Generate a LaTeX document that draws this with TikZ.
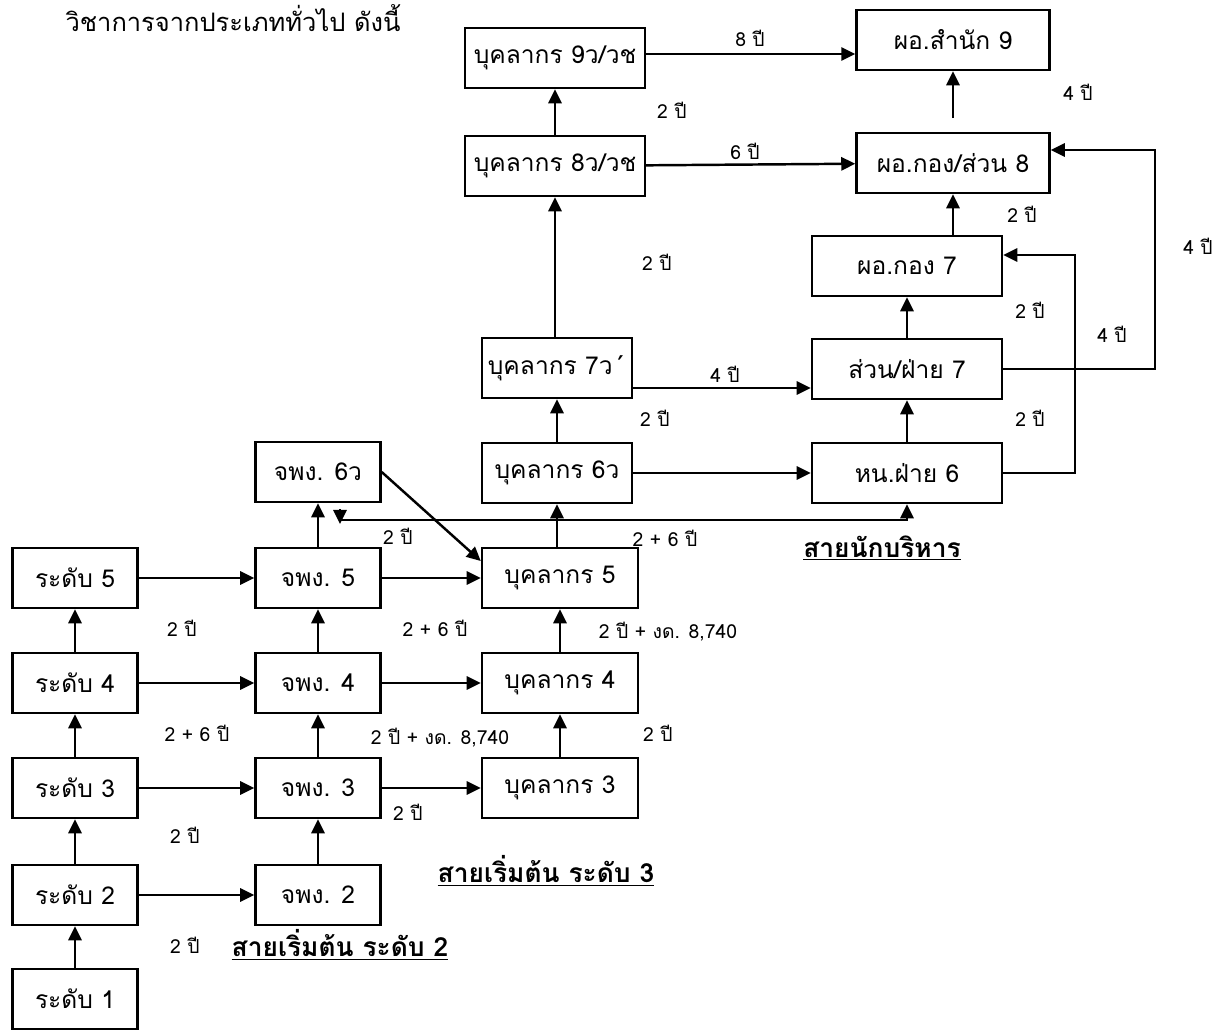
\documentclass[tikz,border=0pt]{standalone}
\usepackage{fontspec}
\setmainfont[Script=Thai]{Loma}
\usetikzlibrary{arrows.meta}
\begin{document}
\begin{tikzpicture}[x=0.02cm, y=-0.02cm,
    box/.style={draw, line width=1.4pt, minimum height=1.2cm, inner sep=0pt, font=\fontsize{14}{16}\selectfont},
    arr/.style={line width=1.4pt, -{Triangle[length=8pt,width=7.5pt]}},
    lbl/.style={font=\fontsize{11}{13}\selectfont},
    ttl/.style={font=\fontsize{15}{17}\selectfont\bfseries}]
\useasboundingbox (0,0) rectangle (1222,1029);

\node[font=\fontsize{14.5}{17}\selectfont] (head) at (233,18) {วิชาการจากประเภททั่วไป ดังนี้};

% general line
\node[box, minimum width=2.5cm] (r5) at (75,578) {ระดับ 5};
\node[box, minimum width=2.5cm] (r4) at (75,683) {ระดับ 4};
\node[box, minimum width=2.5cm] (r3) at (75,788) {ระดับ 3};
\node[box, minimum width=2.5cm] (r2) at (75,895) {ระดับ 2};
\node[box, minimum width=2.5cm] (r1) at (75,999) {ระดับ 1};

\node[box, minimum width=2.5cm] (j6) at (318,472) {จพง. 6ว};
\node[box, minimum width=2.5cm] (j5) at (318,578) {จพง. 5};
\node[box, minimum width=2.5cm] (j4) at (318,683) {จพง. 4};
\node[box, minimum width=2.5cm] (j3) at (318,788) {จพง. 3};
\node[box, minimum width=2.5cm] (j2) at (318,895) {จพง. 2};

\node[box, minimum width=3.12cm] (b5) at (560,578) {บุคลากร 5};
\node[box, minimum width=3.12cm] (b4) at (560,683) {บุคลากร 4};
\node[box, minimum width=3.12cm] (b3) at (560,788) {บุคลากร 3};
\node[box, minimum width=3cm] (b6) at (557,473) {บุคลากร 6ว};
\node[box, minimum width=3cm] (b7) at (557,368) {บุคลากร 7ว´};
\node[box, minimum width=3.6cm] (b8) at (555,166) {บุคลากร 8ว/วช};
\node[box, minimum width=3.6cm] (b9) at (555,58) {บุคลากร 9ว/วช};

% executive line
\node[box, minimum width=3.86cm] (d9) at (953,40) {ผอ.สำนัก 9};
\node[box, minimum width=3.86cm] (d8) at (953,163) {ผอ.กอง/ส่วน 8};
\node[box, minimum width=3.8cm] (k7) at (907,266) {ผอ.กอง 7};
\node[box, minimum width=3.8cm] (s7) at (907,369) {ส่วน/ฝ่าย 7};
\node[box, minimum width=3.8cm] (h6) at (907,473) {หน.ฝ่าย 6};

\coordinate (d8top) at (953,118);
\coordinate (kx) at (1075,255);
\coordinate (dx) at (1155,150);
\coordinate (lb) at (340,520);

% up arrows
\draw[arr] (r1) -- (r2);
\draw[arr] (r2) -- (r3);
\draw[arr] (r3) -- (r4);
\draw[arr] (r4) -- (r5);
\draw[arr] (j2) -- (j3);
\draw[arr] (j3) -- (j4);
\draw[arr] (j4) -- (j5);
\draw[arr] (j5) -- (j6);
\draw[arr] (b3) -- (b4);
\draw[arr] (b4) -- (b5);
\draw[arr] (b5.north -| b6) -- (b6);
\draw[arr] (b6) -- (b7);
\draw[arr] (b7.north -| b8) -- (b8);
\draw[arr] (b8) -- (b9);
\draw[arr] (h6) -- (s7);
\draw[arr] (s7) -- (k7);
\draw[arr] (k7.north -| d8) -- (d8);
\draw[arr] (d8top) -- (d9);

% right arrows
\draw[arr] (r5) -- (j5);
\draw[arr] (r4) -- (j4);
\draw[arr] (r3) -- (j3);
\draw[arr] (r2) -- (j2);
\draw[arr] (j5) -- (j5 -| b5.west);
\draw[arr] (j4) -- (b4);
\draw[arr] (j3) -- (b3);
\draw[arr] (j6.east) -- ([yshift=0.34cm]b5.west);
\draw[arr] (b6) -- (h6);
\draw[arr] ([yshift=-0.4cm]b7.east) -- ([yshift=-0.4cm]b7.east -| s7.west);
\draw[arr] (b8) -- (d8);
\draw[arr] (b9.east |- 0,54) -- (d9.west |- 0,54);
\draw[arr] (h6.east) -| (kx) -- (kx -| k7.east);
\draw[arr] (s7.east) -| (dx) -- (dx -| d8.east);
\draw[arr] (lb) -| (h6.south);
\draw[arr] ([yshift=0.22cm]lb) -- ([yshift=-0.08cm]lb);

% labels
\node[lbl] (l1) at (185,945) {2 ปี};
\node[lbl] (l2) at (185,835) {2 ปี};
\node[lbl] (l3) at (197,733) {2 + 6 ปี};
\node[lbl] (l4) at (182,628) {2 ปี};
\node[lbl] (l5) at (408,812) {2 ปี};
\node[lbl] (l6) at (440,738) {2 ปี + งด. 8,740};
\node[lbl] (l7) at (435,628) {2 + 6 ปี};
\node[lbl] (l8) at (398,536) {2 ปี};
\node[lbl] (l9) at (658,733) {2 ปี};
\node[lbl] (l10) at (668,632) {2 ปี + งด. 8,740};
\node[lbl] (l11) at (665,538) {2 + 6 ปี};
\node[lbl] (l12) at (655,418) {2 ปี};
\node[lbl] (l13) at (725,374) {4 ปี};
\node[lbl] (l14) at (657,262) {2 ปี};
\node[lbl] (l15) at (672,110) {2 ปี};
\node[lbl] (l16) at (745,151) {6 ปี};
\node[lbl] (l17) at (750,38) {8 ปี};
\node[lbl] (l18) at (1078,92) {4 ปี};
\node[lbl] (l19) at (1022,214) {2 ปี};
\node[lbl] (l20) at (1030,310) {2 ปี};
\node[lbl] (l21) at (1030,418) {2 ปี};
\node[lbl] (l22) at (1112,334) {4 ปี};
\node[lbl] (l23) at (1198,246) {4 ปี};

\node[ttl] (t2) at (340,945) {\underline{สายเริ่มต้น ระดับ 2}};
\node[ttl] (t3) at (546,871) {\underline{สายเริ่มต้น ระดับ 3}};
\node[ttl] (tx) at (882,548) {\underline{สายนักบริหาร}};
\end{tikzpicture}
\end{document}
